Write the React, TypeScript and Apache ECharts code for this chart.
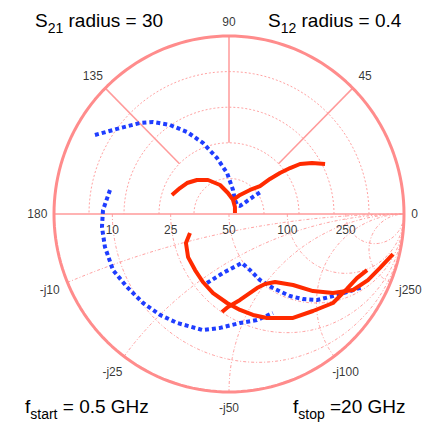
import React, { useEffect, useRef } from "react";
import * as echarts from "echarts";

// ---- scaffold values ----
const angleLabels = ["0", "45", "90", "135", "180"];
const angleDegrees = [0, 45, 90, 135, 180];
const ringFractions = [0.2, 0.4, 0.6, 0.8];
const spokeAngles = [45, 90, 135];
const Z0 = 50;
const resistanceValues = [10, 25, 50, 100, 250];
const resistanceLabels = ["10", "25", "50", "100", "250"];
const reactanceValues = [-10, -25, -50, -100, -250];
const reactanceLabels = ["-j10", "-j25", "-j50", "-j100", "-j250"];

// ---- traces (reflection-plane coordinates) ----
const blueTop: [number, number][] = [
  [-0.766, 0.444], [-0.64, 0.478], [-0.509, 0.511], [-0.434, 0.517], [-0.337, 0.5],
  [-0.24, 0.461], [-0.149, 0.399], [-0.069, 0.315], [-0.011, 0.23], [0.023, 0.135],
  [0.034, 0.079], [0.046, 0.051], [0.063, 0.045], [0.103, 0.073], [0.137, 0.096], [0.189, 0.129],
];
const redTopLeft: [number, number][] = [
  [-0.326, 0.107], [-0.28, 0.146], [-0.24, 0.174], [-0.183, 0.191], [-0.12, 0.191],
  [-0.051, 0.163], [-0.006, 0.118], [0.023, 0.079], [0.034, 0.039], [0.034, 0.006],
];
const redTopRight: [number, number][] = [
  [0.023, 0.079], [0.063, 0.107], [0.12, 0.135], [0.177, 0.157], [0.234, 0.197],
  [0.291, 0.23], [0.349, 0.258], [0.406, 0.281], [0.474, 0.287], [0.549, 0.281],
];
const blueLowA: [number, number][] = [
  [-0.68, 0.135], [-0.72, 0.022], [-0.726, -0.073], [-0.709, -0.185], [-0.663, -0.315],
  [-0.583, -0.41], [-0.491, -0.5], [-0.394, -0.567], [-0.297, -0.612], [-0.149, -0.652],
  [-0.051, -0.64], [0.063, -0.612], [0.16, -0.596], [0.251, -0.556],
];
const blueLowB: [number, number][] = [
  [-0.126, -0.388], [-0.034, -0.331], [0.074, -0.275], [0.12, -0.315], [0.177, -0.371],
  [0.251, -0.416], [0.349, -0.461], [0.423, -0.478], [0.503, -0.483], [0.577, -0.466],
  [0.674, -0.438], [0.766, -0.41],
];
const redLowA: [number, number][] = [
  [-0.223, -0.107], [-0.246, -0.163], [-0.234, -0.242], [-0.194, -0.315], [-0.149, -0.382],
  [-0.091, -0.444], [-0.011, -0.5], [0.063, -0.539], [0.137, -0.567], [0.217, -0.584],
  [0.366, -0.584], [0.48, -0.545], [0.594, -0.5], [0.674, -0.421], [0.731, -0.36], [0.789, -0.315],
];
const redLowB: [number, number][] = [
  [-0.04, -0.551], [-0.006, -0.522], [0.063, -0.483], [0.16, -0.416], [0.206, -0.393],
  [0.263, -0.382], [0.366, -0.399], [0.48, -0.433], [0.594, -0.444], [0.709, -0.427],
  [0.794, -0.371], [0.863, -0.303], [0.937, -0.225],
];

const GRID = "#ff9090";
const RED = "#ff2a00";
const BLUE = "#1f3dff";

function gamma(r: number, x: number): [number, number] {
  const D = (r + 1) * (r + 1) + x * x;
  return [(r * r + x * x - 1) / D, (2 * x) / D];
}

function arc(cx: number, cy: number, rad: number, a0: number, a1: number, n = 90): [number, number][] {
  const pts: [number, number][] = [];
  for (let i = 0; i <= n; i++) {
    const a = a0 + ((a1 - a0) * i) / n;
    pts.push([cx + rad * Math.cos(a), cy + rad * Math.sin(a)]);
  }
  return pts;
}

function gridLine(data: [number, number][], width: number, type: any, color = GRID, opacity = 1) {
  return {
    type: "line",
    data,
    showSymbol: false,
    silent: true,
    clip: false,
    z: 1,
    lineStyle: { color, width, type, opacity },
  };
}

function traceLine(data: [number, number][], color: string, dotted: boolean) {
  return {
    type: "line",
    data,
    showSymbol: false,
    silent: true,
    z: 5,
    lineStyle: { color, width: 4, type: dotted ? [4, 3] : "solid", cap: "butt", join: "round" },
  };
}

export default function App() {
  const ref = useRef<HTMLDivElement>(null);
  useEffect(() => {
    document.body.style.margin = "0";
    const chart = echarts.init(ref.current!, null, { renderer: "svg" });
    const series: any[] = [];
    const dash = [3, 2, 1, 2];

    ringFractions.forEach((f) => series.push(gridLine(arc(0, 0, f, 0, Math.PI), 1, [2, 2], GRID, 0.85)));
    spokeAngles.forEach((d) => {
      const a = (d * Math.PI) / 180;
      series.push(gridLine([[0.4 * Math.cos(a), 0.4 * Math.sin(a)], [Math.cos(a), Math.sin(a)]], 1.5, "solid", "#ff9a9a"));
    });
    resistanceValues.forEach((R) => {
      const r = R / Z0;
      const pts: [number, number][] = [];
      for (let i = 0; i <= 120; i++) {
        const t = (i / 120) * Math.PI * 0.4995;
        pts.push(gamma(r, -Math.tan(t)));
      }
      pts.push([1, 0]);
      series.push(gridLine(pts, 1, dash, GRID, 0.85));
    });
    reactanceValues.forEach((X) => {
      const x = X / Z0;
      const pts: [number, number][] = [];
      for (let i = 0; i <= 120; i++) {
        const t = (i / 120) * Math.PI * 0.4995;
        pts.push(gamma(Math.tan(t), x));
      }
      pts.push([1, 0]);
      series.push(gridLine(pts, 1, dash, GRID, 0.85));
    });
    series.push(gridLine([[-1, 0], [1, 0]], 1.5, "solid", "#ff9a9a"));
    series.push(gridLine(arc(0, 0, 1, 0, Math.PI * 2, 180), 3, "solid", "#ff8c8c"));

    series.push(traceLine(blueTop, BLUE, true));
    series.push(traceLine(blueLowA, BLUE, true));
    series.push(traceLine(blueLowB, BLUE, true));
    series.push(traceLine(redTopLeft, RED, false));
    series.push(traceLine(redTopRight, RED, false));
    series.push(traceLine(redLowA, RED, false));
    series.push(traceLine(redLowB, RED, false));

    const labelData: any[] = [];
    angleDegrees.forEach((d, i) => {
      const a = (d * Math.PI) / 180;
      const k = d === 0 ? 1.06 : d === 90 ? 1.08 : d === 180 ? 1.095 : 1.1;
      labelData.push({ value: [k * Math.cos(a), k * Math.sin(a)], name: angleLabels[i] });
    });
    resistanceValues.forEach((R, i) => {
      const r = R / Z0;
      labelData.push({ value: [(r - 1) / (r + 1), -0.09], name: resistanceLabels[i] });
    });
    reactanceValues.forEach((X, i) => {
      const g = gamma(0, X / Z0);
      const k = X === -50 ? 1.09 : 1.11;
      labelData.push({ value: [g[0] * k, g[1] * k], name: reactanceLabels[i] });
    });
    series.push({
      type: "scatter",
      data: labelData,
      symbolSize: 0,
      silent: true,
      clip: false,
      z: 6,
      label: {
        show: true,
        position: "inside",
        formatter: (p: any) => p.name,
        color: "#000",
        fontSize: 12,
        fontFamily: "Liberation Sans, Arial, sans-serif",
      },
    });

    const titleFont = "Liberation Sans, Arial, sans-serif";
    const rich = {
      m: { fontSize: 19, fontFamily: titleFont, fill: "#000", color: "#000" },
      s: { fontSize: 14, fontFamily: titleFont, fill: "#000", color: "#000", padding: [14, 0, 0, 0] },
    };
    const titleText = (x: number, y: number, text: string) => ({
      type: "text",
      x,
      y,
      style: { text, rich, textAlign: "left", textVerticalAlign: "middle" },
    });
    chart.setOption({
      animation: false,
      grid: { left: 54, top: 36, width: 350, height: 356 },
      xAxis: { type: "value", min: -1, max: 1, show: false },
      yAxis: { type: "value", min: -1, max: 1, show: false },
      graphic: [
        titleText(35, 20.5, "{m|S}{s|21}{m| radius = 30}"),
        titleText(268, 20.5, "{m|S}{s|12}{m| radius = 0.4}"),
        titleText(25, 406.5, "{m|f}{s|start}{m| = 0.5 GHz}"),
        titleText(293, 406.5, "{m|f}{s|stop}{m| =20 GHz}"),
      ],
      series,
    });
    return () => chart.dispose();
  }, []);
  return <div ref={ref} style={{ width: 429, height: 422 }} />;
}
